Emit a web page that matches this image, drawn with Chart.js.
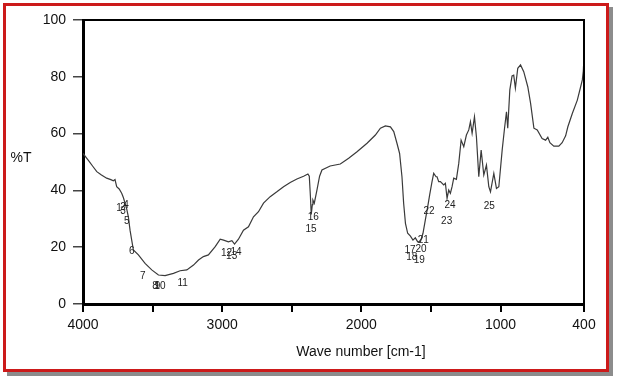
<!DOCTYPE html>
<html>
<head>
<meta charset="utf-8">
<script src="https://cdn.jsdelivr.net/npm/chart.js@4/dist/chart.umd.min.js"></script>
<style>
  html, body { margin: 0; padding: 0; background: #fff; }
  #frame { position: absolute; left: 3px; top: 3px; width: 600px; height: 363px;
           border: 3px solid #cc1a1a; box-shadow: 4px 4px 0 #8c8c8c; background: #fff; }
  #wrap { position: absolute; left: 0; top: 0; width: 617px; height: 381px; }
</style>
</head>
<body>
<div id="frame"></div>
<div id="wrap"><canvas id="c" width="617" height="381"></canvas></div>
<script>
// Wave numbers (cm-1) and %T values
const waveNumbers = [4000,3993,3960,3930,3901,3870,3830,3800,3782,3770,3758,3740,3722,3710,3698,3686,3674,3662,3650,3638,3602,3554,3506,3458,3410,3350,3302,3254,3206,3170,3135,3099,3050,3014,2990,2955,2930,2911,2883,2847,2811,2775,2739,2703,2655,2607,2559,2511,2463,2415,2384,2374,2366,2360,2352,2348,2338,2319,2300,2283,2224,2151,2091,2031,1959,1899,1863,1827,1791,1767,1744,1725,1708,1696,1683,1667,1647,1629,1612,1595,1576,1557,1540,1523,1509,1492,1480,1463,1456,1444,1432,1408,1396,1384,1372,1360,1348,1336,1317,1300,1283,1264,1245,1228,1216,1204,1187,1173,1156,1139,1120,1101,1084,1072,1048,1029,1012,988,971,957,948,933,917,905,893,876,856,833,804,784,760,736,701,676,660,645,617,581,557,532,516,484,448,424,412,405,400];
const transmittance = [53,53,50.5,48.5,46.6,45.5,44.3,43.8,43.4,43.8,41.3,40.5,39,37.5,35.5,33.5,30.7,26,22.5,19,17.3,14.3,12,10.2,10,10.8,11.7,12,13.7,15.5,16.7,17.3,20.2,22.8,22.5,21.9,22.3,21.1,22.8,26,27.2,30.7,32.5,35.5,37.8,39.5,41.3,42.8,44,45,45.8,45,38,31.5,35,36.6,35.5,40.1,45,47.2,48.6,49.3,51.3,53.6,56.6,59.5,61.9,62.7,62.4,60.7,56.6,53,44.8,35.5,28.4,24.9,23.9,22.5,23.3,21.9,21.9,24.9,29.6,34.3,38.4,43.1,46,44.8,44.8,43.1,43.1,41.9,42.5,37.2,40.1,39,41.3,44.3,43.9,49.5,57.7,55.4,59.5,61.3,64.2,60.1,65.9,58.9,44.8,54.2,45.4,48.9,41.3,39.5,46,40.7,41.3,54.2,61.9,67.7,61.9,75.4,80.3,80.6,76,83,84.2,81.8,76.5,70.7,61.9,61.3,58.3,57.7,58.7,56.8,55.6,55.6,56.8,59.2,62.4,67.1,71.8,76.5,78.9,82,87];

// Peak annotation labels and their anchor positions (wave number, %T)
const peakLabels = ["1","2","3","4","5","6","7","8","9","10","11","12","13","14","15","16","17","18","19","20","21","22","23","24","25"];
const peakWave   = [3741,3713,3713,3691,3686,3650,3571,3483,3465,3447,3284,2968,2932,2901,2362,2345,1650,1638,1584,1571,1555,1514,1387,1363,1081];
const peakT      = [33.8,34.2,32.7,34.9,29.2,18.7,9.6,6.1,6.1,6.1,7.3,17.9,16.7,18.2,26.4,30.5,18.8,16.4,15.5,19.4,22.3,32.7,29,34.6,34.5];

// Axis ticks
const xTicks = [4000,3500,3000,2500,2000,1500,1000,400];
const xTickLabels = ["4000","","3000","","2000","","1000","400"];
const yTicks = [0,20,40,60,80,100];

const points = waveNumbers.map((w, i) => ({ x: w, y: transmittance[i] }));

const extras = {
  id: 'extras',
  afterDraw(chart) {
    const { ctx, chartArea: a, scales } = chart;
    ctx.save();
    // top and right frame lines
    ctx.strokeStyle = '#000';
    ctx.lineWidth = 2;
    ctx.beginPath();
    ctx.moveTo(a.left, a.top);
    ctx.lineTo(a.right, a.top);
    ctx.lineTo(a.right, a.bottom);
    ctx.stroke();
    // peak labels
    ctx.fillStyle = '#222';
    ctx.font = '10px "Liberation Sans", Arial, sans-serif';
    ctx.textAlign = 'center';
    ctx.textBaseline = 'middle';
    peakLabels.forEach((t, i) => {
      ctx.fillText(t, scales.x.getPixelForValue(peakWave[i]), scales.y.getPixelForValue(peakT[i]));
    });
    // axis titles
    ctx.fillStyle = '#111';
    ctx.font = '14px "Liberation Sans", Arial, sans-serif';
    ctx.fillText('%T', 21, 158);
    ctx.fillText('Wave number [cm-1]', 361, 352);
    ctx.restore();
  }
};

new Chart(document.getElementById('c'), {
  type: 'line',
  data: {
    datasets: [{
      data: points,
      borderColor: '#3a3a3a',
      borderWidth: 1.2,
      pointRadius: 0,
      tension: 0,
      fill: false
    }]
  },
  options: {
    responsive: false,
    animation: false,
    layout: { padding: { left: 0, top: 20, right: 33, bottom: 0 } },
    plugins: { legend: { display: false }, tooltip: { enabled: false } },
    scales: {
      x: {
        type: 'linear',
        reverse: true,
        min: 400,
        max: 4000,
        afterBuildTicks(s) { s.ticks = xTicks.map(v => ({ value: v })); },
        afterFit(s) { s.height = 77; },
        ticks: {
          autoSkip: false,
          maxRotation: 0,
          padding: 5,
          color: '#111',
          font: { family: '"Liberation Sans", Arial, sans-serif', size: 14 },
          callback: (v) => xTickLabels[xTicks.indexOf(v)]
        },
        grid: { drawOnChartArea: false, drawTicks: true, tickLength: 8, color: '#000', lineWidth: 2 },
        border: { display: true, color: '#000', width: 3 }
      },
      y: {
        min: 0,
        max: 100,
        afterBuildTicks(s) { s.ticks = yTicks.map(v => ({ value: v })); },
        afterFit(s) { s.width = 83; },
        ticks: {
          padding: 7,
          color: '#111',
          font: { family: '"Liberation Sans", Arial, sans-serif', size: 14 }
        },
        grid: { drawOnChartArea: false, drawTicks: true, tickLength: 10, color: '#444', lineWidth: 1.5 },
        border: { display: true, color: '#000', width: 3 }
      }
    }
  },
  plugins: [extras]
});
</script>
</body>
</html>
